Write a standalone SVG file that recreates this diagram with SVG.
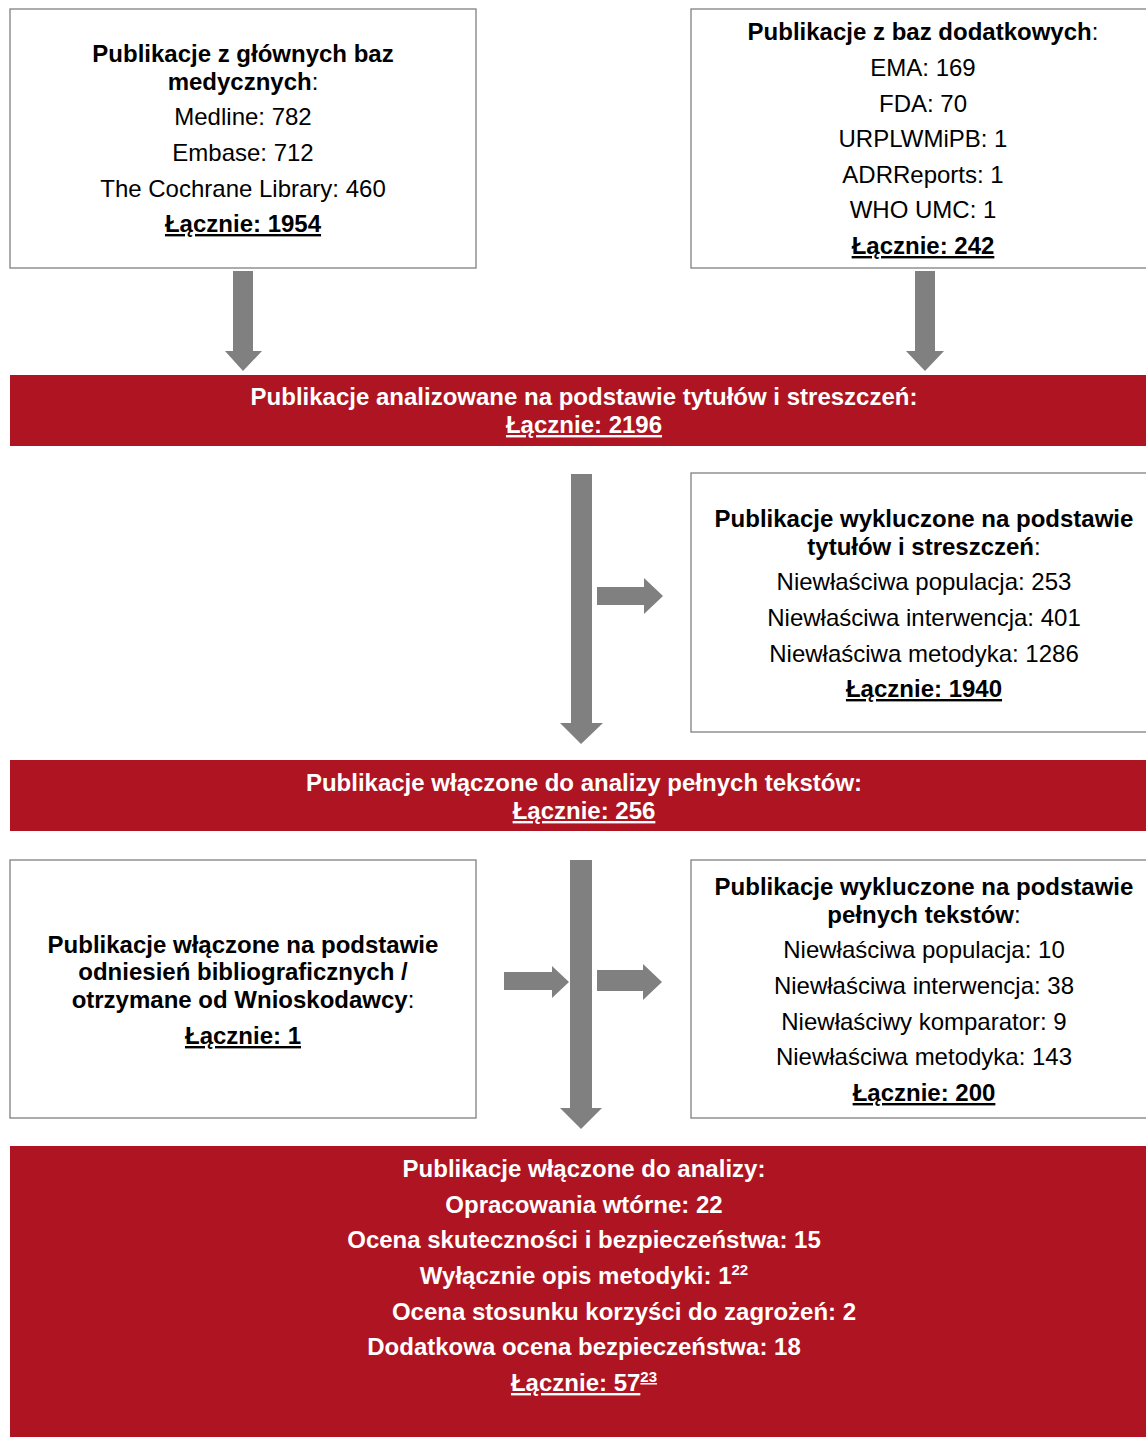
<svg xmlns="http://www.w3.org/2000/svg" width="1146" height="1437" viewBox="0 0 1146 1437">
<style>
text{font-family:"Liberation Sans",Arial,sans-serif;font-size:24px;fill:#000;text-anchor:middle}
.b{font-weight:bold}
.w{fill:#fff;font-weight:bold}
.u{text-decoration:underline}
.box{fill:#fff;stroke:#808080;stroke-width:1.3}
.red{fill:#AE1421}
.arr{fill:#808080}
.sup{font-size:15px}
</style>
<rect width="1146" height="1437" fill="#fff"/>
<g id="connectors">
<polygon class="arr" points="233,271 253,271 253,351 262,351 243,371 225,351 233,351"/>
<polygon class="arr" points="915,271 935,271 935,351 944,351 925,371 906,351 915,351"/>
<polygon class="arr" points="571,474 592,474 592,723 603,723 581,744 560,723 571,723"/>
<polygon class="arr" points="597,587 644,587 644,578 663,596 644,614 644,605 597,605"/>
<polygon class="arr" points="570,860 592,860 592,1108 602,1108 581,1129 560,1108 570,1108"/>
<polygon class="arr" points="504,972 552,972 552,966 569,982 552,998 552,990 504,990"/>
<polygon class="arr" points="597,970 643,970 643,964 662,982 643,1000 643,991 597,991"/>
</g>
<g id="n1">
<rect class="box" x="10" y="9" width="466" height="259"/>
<text x="243" y="62"><tspan class="b">Publikacje z głównych baz</tspan></text>
<text x="243" y="90"><tspan class="b">medycznych</tspan>:</text>
<text x="243" y="125">Medline: 782</text>
<text x="243" y="161">Embase: 712</text>
<text x="243" y="197">The Cochrane Library: 460</text>
<text x="243" y="232" class="b u">Łącznie: 1954</text>
</g>
<g id="n2">
<rect class="box" x="691" y="9" width="460" height="259"/>
<text x="923" y="40"><tspan class="b">Publikacje z baz dodatkowych</tspan>:</text>
<text x="923" y="76">EMA: 169</text>
<text x="923" y="112">FDA: 70</text>
<text x="923" y="147">URPLWMiPB: 1</text>
<text x="923" y="183">ADRReports: 1</text>
<text x="923" y="218">WHO UMC: 1</text>
<text x="923" y="254" class="b u">Łącznie: 242</text>
</g>
<g id="n3">
<rect class="red" x="10" y="375" width="1136" height="71"/>
<text x="584" y="405" class="w">Publikacje analizowane na podstawie tytułów i streszczeń:</text>
<text x="584" y="433" class="w u">Łącznie: 2196</text>
</g>
<g id="n4">
<rect class="box" x="691" y="473" width="460" height="259"/>
<text x="924" y="527" class="b">Publikacje wykluczone na podstawie</text>
<text x="924" y="555"><tspan class="b">tytułów i streszczeń</tspan>:</text>
<text x="924" y="590">Niewłaściwa populacja: 253</text>
<text x="924" y="626">Niewłaściwa interwencja: 401</text>
<text x="924" y="662">Niewłaściwa metodyka: 1286</text>
<text x="924" y="697" class="b u">Łącznie: 1940</text>
</g>
<g id="n5">
<rect class="red" x="10" y="760" width="1136" height="71"/>
<text x="584" y="791" class="w">Publikacje włączone do analizy pełnych tekstów:</text>
<text x="584" y="819" class="w u">Łącznie: 256</text>
</g>
<g id="n6">
<rect class="box" x="10" y="860" width="466" height="258"/>
<text x="243" y="953" class="b">Publikacje włączone na podstawie</text>
<text x="243" y="980" class="b">odniesień bibliograficznych /</text>
<text x="243" y="1008"><tspan class="b">otrzymane od Wnioskodawcy</tspan>:</text>
<text x="243" y="1044" class="b u">Łącznie: 1</text>
</g>
<g id="n7">
<rect class="box" x="691" y="860" width="460" height="258"/>
<text x="924" y="895" class="b">Publikacje wykluczone na podstawie</text>
<text x="924" y="923"><tspan class="b">pełnych tekstów</tspan>:</text>
<text x="924" y="958">Niewłaściwa populacja: 10</text>
<text x="924" y="994">Niewłaściwa interwencja: 38</text>
<text x="924" y="1030">Niewłaściwy komparator: 9</text>
<text x="924" y="1065">Niewłaściwa metodyka: 143</text>
<text x="924" y="1101" class="b u">Łącznie: 200</text>
</g>
<g id="n8">
<rect class="red" x="10" y="1146" width="1136" height="291"/>
<text x="584" y="1177" class="w">Publikacje włączone do analizy:</text>
<text x="584" y="1213" class="w">Opracowania wtórne: 22</text>
<text x="584" y="1248" class="w">Ocena skuteczności i bezpieczeństwa: 15</text>
<text x="584" y="1284" class="w">Wyłącznie opis metodyki: 1<tspan class="sup" dy="-9">22</tspan></text>
<text x="624" y="1320" class="w">Ocena stosunku korzyści do zagrożeń: 2</text>
<text x="584" y="1355" class="w">Dodatkowa ocena bezpieczeństwa: 18</text>
<text x="584" y="1391" class="w u">Łącznie: 57<tspan class="sup" dy="-9">23</tspan></text>
</g>
</svg>
